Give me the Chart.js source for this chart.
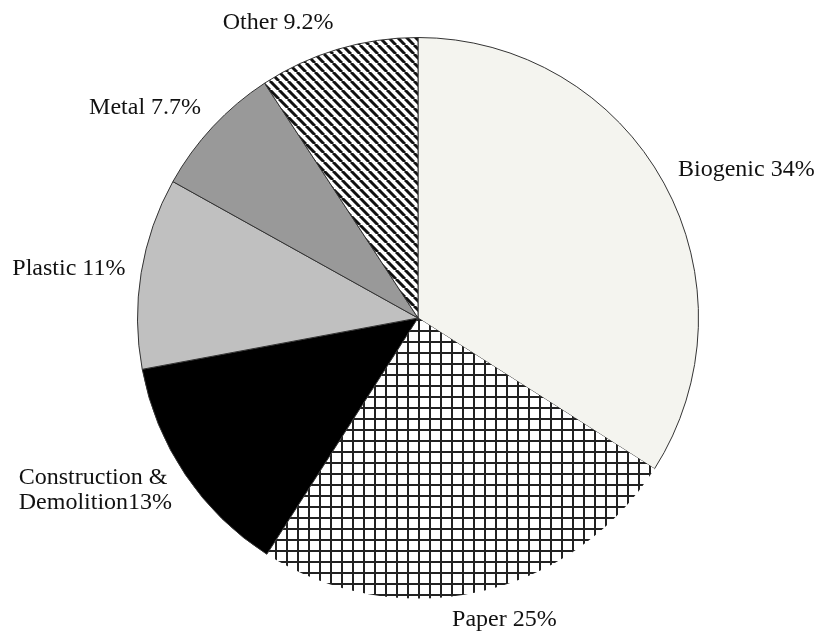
<!DOCTYPE html>
<html>
<head>
<meta charset="utf-8">
<script src="https://cdn.jsdelivr.net/npm/chart.js@4/dist/chart.umd.min.js"></script>
<style>
  body { margin: 0; background: #fff; }
  #wrap { width: 825px; height: 636px; }
</style>
</head>
<body>
<div id="wrap"><canvas id="pie"></canvas></div>
<script>
const categories = ['Biogenic', 'Paper', 'Construction & Demolition', 'Plastic', 'Metal', 'Other'];
const shares = [34, 25, 13, 11, 7.7, 9.2];
const labelText = [['Biogenic 34%'], ['Paper 25%'], ['Construction &', 'Demolition13%'], ['Plastic 11%'], ['Metal 7.7%'], ['Other 9.2%']];

// hatch fills
function gridPattern() {
  const c = document.createElement('canvas');
  c.width = 11; c.height = 11;
  const g = c.getContext('2d');
  g.fillStyle = '#fff';
  g.fillRect(0, 0, 11, 11);
  g.fillStyle = '#222';
  g.fillRect(0, 0, 2, 11);
  g.fillRect(0, 0, 11, 2);
  return g.createPattern(c, 'repeat');
}

function stripePattern() {
  const s = 9;
  const c = document.createElement('canvas');
  c.width = s; c.height = s;
  const g = c.getContext('2d');
  g.fillStyle = '#fff';
  g.fillRect(0, 0, s, s);
  g.strokeStyle = '#111';
  g.lineWidth = 3;
  for (let k = -1; k <= 1; k++) {
    g.beginPath();
    g.moveTo(k * s, 0);
    g.lineTo(k * s + s, s);
    g.stroke();
  }
  return g.createPattern(c, 'repeat');
}

const fills = ['#f4f4ef', gridPattern(), '#000000', '#c0c0c0', '#999999', stripePattern()];

const outsideLabels = {
  id: 'outsideLabels',
  afterDatasetsDraw(chart) {
    const ctx = chart.ctx;
    const meta = chart.getDatasetMeta(0);
    ctx.save();
    ctx.font = '24px "Liberation Serif", "Times New Roman", serif';
    ctx.fillStyle = '#111';
    ctx.textBaseline = 'middle';
    const lineH = 25;
    meta.data.forEach((arc, i) => {
      const p = arc.getProps(['x', 'y', 'startAngle', 'endAngle', 'outerRadius'], true);
      const mid = (p.startAngle + p.endAngle) / 2;
      const dx = Math.cos(mid), dy = Math.sin(mid);
      const r = p.outerRadius + 16;
      const ax = p.x + dx * r, ay = p.y + dy * r + dy * 12;
      const lines = labelText[i];
      const w = Math.max(...lines.map(t => ctx.measureText(t).width));
      let left;
      if (Math.abs(dx) < 0.25) left = ax - w / 2 + dx * w;
      else if (dx > 0) left = ax;
      else left = ax - w;
      const top = ay - (lines.length - 1) * lineH / 2;
      ctx.textAlign = 'left';
      lines.forEach((t, j) => ctx.fillText(t, left, top + j * lineH));
    });
    ctx.restore();
  }
};

new Chart(document.getElementById('pie'), {
  type: 'pie',
  data: {
    labels: categories,
    datasets: [{
      data: shares,
      backgroundColor: fills,
      borderColor: '#333',
      borderWidth: [1, 0, 1, 1, 1, 1],
      hoverOffset: 0
    }]
  },
  options: {
    responsive: true,
    maintainAspectRatio: false,
    animation: false,
    layout: { padding: { left: 137, right: 126, top: 37, bottom: 37 } },
    plugins: { legend: { display: false }, tooltip: { enabled: false } }
  },
  plugins: [outsideLabels]
});
</script>
</body>
</html>
